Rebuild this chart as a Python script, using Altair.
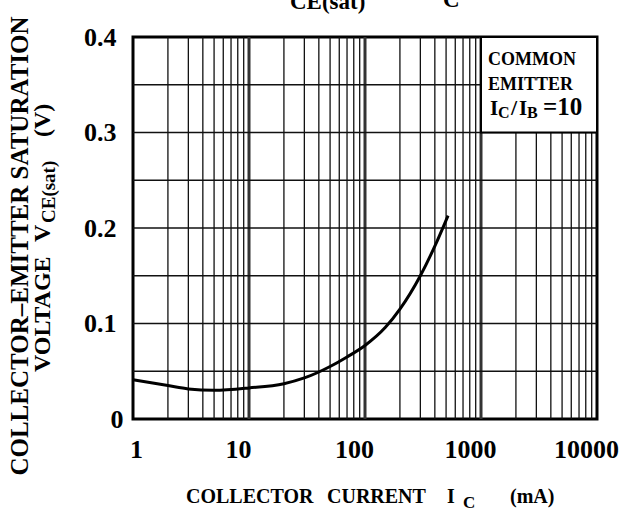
import altair as alt
import pandas as pd

# ---- data ----
ic_ma = [1, 2, 3, 5, 10, 20, 30, 50, 70, 100, 150, 200, 300, 400, 520]
vce_sat = [0.041, 0.035, 0.0315, 0.030, 0.0325, 0.037, 0.043, 0.055, 0.065,
           0.077, 0.096, 0.115, 0.150, 0.181, 0.213]

x_ticks = [1, 10, 100, 1000, 10000]
y_ticks = [0, 0.1, 0.2, 0.3, 0.4]
minor_x = [m * d for d in [1, 10, 100, 1000] for m in range(2, 10)]
decade_x = [10, 100, 1000]
grid_y = [0.05, 0.10, 0.15, 0.20, 0.25, 0.30, 0.35]
box_x = [1000, 10000]
box_y = [0.3, 0.4]

FONT = "Liberation Serif"

xs = alt.Scale(type="log", domain=[1, 10000], nice=False)
ys = alt.Scale(domain=[0, 0.4], nice=False, zero=False)

ax_x = alt.Axis(
    values=x_ticks, format="d", grid=False, ticks=False, domain=False,
    labelFont=FONT, labelFontWeight="bold", labelFontSize=26,
    labelColor="black", labelBaseline="alphabetic", labelPadding=38,
    labelFlush=False,
    labelOffset={"condition": {"test": "datum.value == 1", "value": 3}, "value": -11},
    title=None)
ax_y = alt.Axis(
    values=y_ticks, labelExpr="datum.value == 0 ? '0' : format(datum.value, '.1f')",
    grid=False, ticks=False, domain=False,
    labelFont=FONT, labelFontWeight="bold", labelFontSize=26,
    labelColor="black",
    labelPadding={"condition": {"test": "datum.value == 0", "value": 10}, "value": 17},
    title=None)

curve = pd.DataFrame({"ic": ic_ma, "v": vce_sat})

minor = alt.Chart(pd.DataFrame({"x": minor_x})).mark_rule(
    color="#111", strokeWidth=1.3).encode(x=alt.X("x:Q", scale=xs, axis=ax_x))
decade = alt.Chart(pd.DataFrame({"x": decade_x})).mark_rule(
    color="#333", strokeWidth=3).encode(x=alt.X("x:Q", scale=xs, axis=ax_x))
hgrid = alt.Chart(pd.DataFrame({"y": grid_y})).mark_rule(
    color="#111", strokeWidth=1.5).encode(y=alt.Y("y:Q", scale=ys, axis=ax_y))

box = alt.Chart(pd.DataFrame({"x1": [box_x[0]], "x2": [box_x[1]],
                              "y1": [box_y[0]], "y2": [box_y[1]]})).mark_rect(
    fill="white", stroke="black", strokeWidth=2).encode(
    x=alt.X("x1:Q", scale=xs, axis=ax_x), x2="x2:Q",
    y=alt.Y("y1:Q", scale=ys, axis=ax_y), y2="y2:Q")

line = alt.Chart(curve).mark_line(
    color="black", strokeWidth=3, interpolate="monotone").encode(
    x=alt.X("ic:Q", scale=xs, axis=ax_x),
    y=alt.Y("v:Q", scale=ys, axis=ax_y))


def txt(s, x, y, size, angle=0, align="left"):
    return alt.Chart(pd.DataFrame({"t": [s]})).mark_text(
        font=FONT, fontWeight="bold", fontSize=size, color="black",
        align=align, baseline="alphabetic", angle=angle).encode(
        text="t:N", x=alt.value(x), y=alt.value(y))


texts = [
    # top title (mostly cut off by the page edge, as in the reference)
    txt("V", 135, -40, 30), txt("CE(sat)", 157, -28, 23), txt("—", 250, -40, 30),
    txt("I", 298, -40, 30), txt("C", 310, -30, 23),
    # box text
    txt("COMMON", 355, 28, 18), txt("EMITTER", 355, 53, 18),
    txt("I", 357, 78, 21), txt("C", 365, 81, 16), txt("/", 378, 78, 22),
    txt("I", 386, 78, 21), txt("B", 394, 81, 16), txt("=10", 410, 78, 25),
    # x title
    txt("COLLECTOR", 53, 466, 20), txt("CURRENT", 194, 466, 20),
    txt("I", 314, 466, 20), txt("C", 330, 471, 17), txt("(mA)", 377, 466, 20),
    # y title
    txt("COLLECTOR–EMITTER SATURATION", -105, 209, 25, angle=270, align="center"),
    txt("VOLTAGE", -83, 335, 24, angle=270),
    txt("V", -83, 205, 24, angle=270),
    txt("CE(sat)", -78, 186, 19, angle=270),
    txt("(V)", -83, 100, 24, angle=270),
]

chart = alt.layer(minor, decade, hgrid, box, line, *texts).properties(
    width=464, height=382,
    autosize=alt.AutoSizeParams(type="none"),
    padding={"left": 133, "top": 37, "right": 31, "bottom": 94},
    background="white",
).configure_view(stroke="black", strokeWidth=3)

chart.save("out.html", embed_options={"renderer": "svg", "actions": False})
